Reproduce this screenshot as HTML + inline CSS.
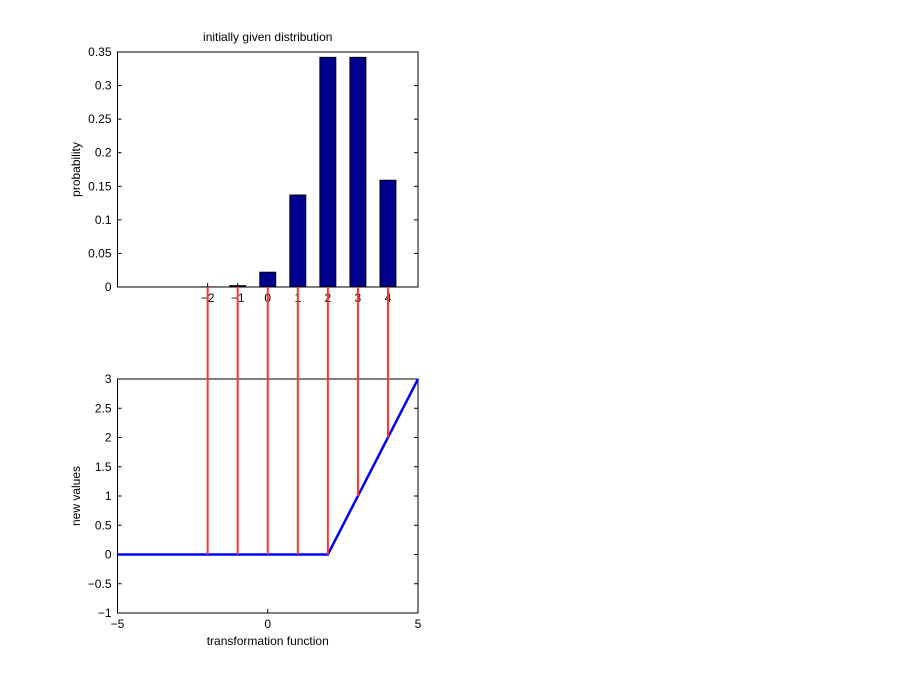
<!DOCTYPE html>
<html><head><meta charset="utf-8"><style>
body{margin:0;background:#fff;width:900px;height:690px;overflow:hidden}
svg text{font-family:"Liberation Sans",sans-serif;font-size:12px;fill:#000}
</style></head><body>
<svg id="c" width="900" height="690" xmlns="http://www.w3.org/2000/svg"></svg>
<script>
const categories=[-2,-1,0,1,2,3,4];
const probabilities=[0.0001,0.002,0.022,0.137,0.342,0.342,0.159];
const topYTicks=[0,0.05,0.1,0.15,0.2,0.25,0.3,0.35];
const topYTickLabels=["0","0.05","0.1","0.15","0.2","0.25","0.3","0.35"];
const botXTicks=[-5,0,5];
const botYTicks=[-1,-0.5,0,0.5,1,1.5,2,2.5,3];
const botYTickLabels=["\u22121","\u22120.5","0","0.5","1","1.5","2","2.5","3"];
const transformX=[-5,2,5];
const transformY=[0,0,3];

const NS="http://www.w3.org/2000/svg";
const svg=document.getElementById('c');
function el(t,a,parent){const e=document.createElementNS(NS,t);for(const k in a)e.setAttribute(k,a[k]);(parent||svg).appendChild(e);return e;}
const L=117.5,R=418;
const x=v=>L+(v+5)/10*(R-L);
const T1=52,B1=287,yT=v=>B1-v/0.35*(B1-T1);
const T2=379,B2=613,yB=v=>B2-(v+1)/4*(B2-T2);
const fmt=v=>v<0?"\u2212"+(-v):String(v);

// top axes
const g1=el('g',{});


const bw=0.53;
categories.forEach((c,i)=>{
  const r=el('rect',{x:x(c-bw/2),y:yT(probabilities[i]),width:x(c+bw/2)-x(c-bw/2),height:B1-yT(probabilities[i]),fill:'#00008f',stroke:'#000','stroke-width':1},g1);
  
  
});
const f1=el('rect',{x:L,y:T1,width:R-L,height:B1-T1,fill:'none',stroke:'#000','stroke-width':1},g1);


topYTicks.forEach((v,i)=>{
  el('line',{x1:L,x2:L+4,y1:yT(v),y2:yT(v),stroke:'#000'},g1);
  el('line',{x1:R,x2:R-4,y1:yT(v),y2:yT(v),stroke:'#000'},g1);
  const t=el('text',{x:L-6,y:yT(v)+4,'text-anchor':'end'},g1);t.textContent=topYTickLabels[i];
  
  
});
categories.forEach(c=>{
  el('line',{x1:x(c),x2:x(c),y1:B1,y2:B1-4,stroke:'#000'},g1);
  const t=el('text',{x:x(c),y:B1+15,'text-anchor':'middle'},g1);t.textContent=fmt(c);
  
  
});
const tt=el('text',{x:(L+R)/2,y:41,'text-anchor':'middle'},g1);tt.textContent='initially given distribution';


const yl1=el('text',{x:0,y:0,'text-anchor':'middle',transform:`translate(80,${(T1+B1)/2}) rotate(-90)`},g1);yl1.textContent='probability';



// bottom axes
const g2=el('g',{});


const f2=el('rect',{x:L,y:T2,width:R-L,height:B2-T2,fill:'none',stroke:'#000','stroke-width':1},g2);


botYTicks.forEach((v,i)=>{
  el('line',{x1:L,x2:L+4,y1:yB(v),y2:yB(v),stroke:'#000'},g2);
  el('line',{x1:R,x2:R-4,y1:yB(v),y2:yB(v),stroke:'#000'},g2);
  const t=el('text',{x:L-6,y:yB(v)+4,'text-anchor':'end'},g2);t.textContent=botYTickLabels[i];
  
  
});
botXTicks.forEach(v=>{
  el('line',{x1:x(v),x2:x(v),y1:B2,y2:B2-4,stroke:'#000'},g2);
  el('line',{x1:x(v),x2:x(v),y1:T2,y2:T2+4,stroke:'#000'},g2);
  const t=el('text',{x:x(v),y:B2+15,'text-anchor':'middle'},g2);t.textContent=fmt(v);
  
  
});
const xl=el('text',{x:(L+R)/2,y:645,'text-anchor':'middle'},g2);xl.textContent='transformation function';


const yl2=el('text',{x:0,y:0,'text-anchor':'middle',transform:`translate(80,${(T2+B2)/2}) rotate(-90)`},g2);yl2.textContent='new values';


const pl=el('polyline',{points:transformX.map((v,i)=>x(v)+','+yB(transformY[i])).join(' '),fill:'none',stroke:'#0000ff','stroke-width':2.5},g2);


function f(v){for(let i=0;i<transformX.length-1;i++){if(v>=transformX[i]&&v<=transformX[i+1]){const t=(v-transformX[i])/(transformX[i+1]-transformX[i]);return transformY[i]+t*(transformY[i+1]-transformY[i]);}}return 0;}
categories.forEach(c=>{
  const ln=el('line',{x1:x(c),x2:x(c),y1:B1,y2:yB(f(c)),stroke:'#ff3333','stroke-width':2});
  
  
});
</script>
</body></html>
